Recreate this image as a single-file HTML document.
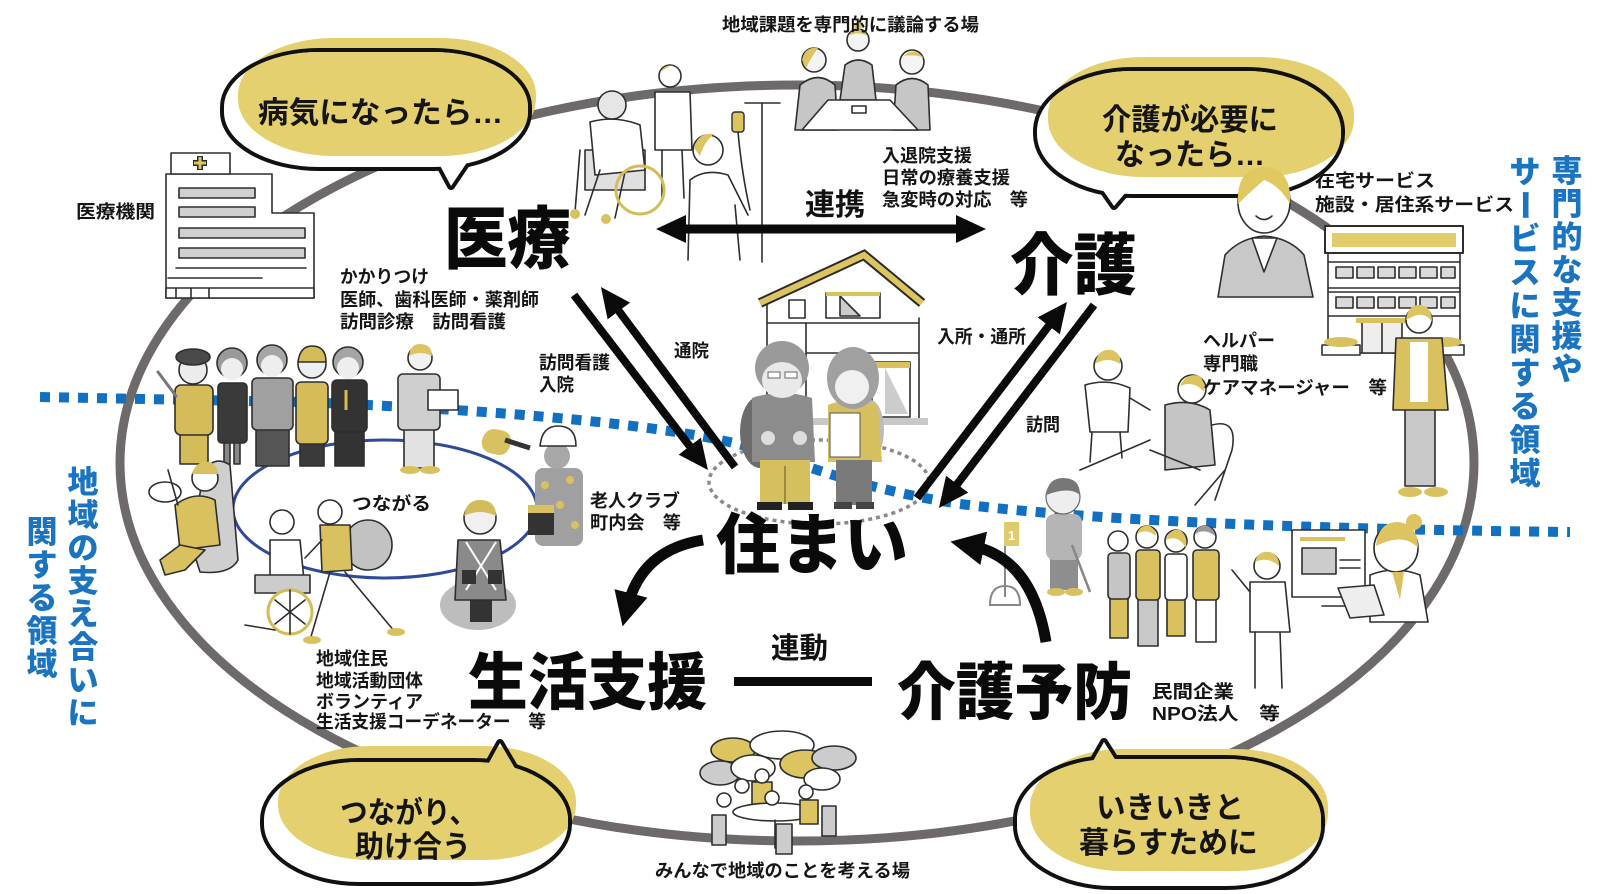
<!DOCTYPE html>
<html><head><meta charset="utf-8">
<style>
html,body{margin:0;padding:0;background:#fff;}
svg{display:block;}
text{font-family:"Liberation Sans","Noto Sans CJK JP",sans-serif;}
.s{font-size:18px;font-weight:700;fill:#151515;}
.b{font-weight:900;fill:#0a0a0a;}
.q{font-size:30px;font-weight:700;fill:#151515;}
.v{font-size:31px;font-weight:900;fill:#1a74c0;}
.ln{stroke:#2e2e2e;stroke-width:1.6;stroke-linecap:round;stroke-linejoin:round;}
</style></head><body>
<svg width="1600" height="894" viewBox="0 0 1600 894" xmlns="http://www.w3.org/2000/svg">
<defs>
<marker id="ah" viewBox="0 0 30 28" markerWidth="30" markerHeight="28" refX="10" refY="14" orient="auto-start-reverse" markerUnits="userSpaceOnUse"><path d="M0,0 L30,14 L0,28 Z" fill="#0a0a0a"/></marker>
<marker id="ah2" viewBox="0 0 34 34" markerWidth="34" markerHeight="34" refX="12" refY="17" orient="auto" markerUnits="userSpaceOnUse"><path d="M0,0 L34,17 L0,34 Z" fill="#0a0a0a"/></marker>
<clipPath id="c1"><rect x="224" y="52" width="304" height="115" rx="95" ry="55"/><polygon points="436,158 451,186 472,155"/></clipPath>
<clipPath id="c2"><rect x="1037" y="71" width="304" height="123" rx="95" ry="60"/><polygon points="1100,186 1114,206 1133,184"/></clipPath>
<clipPath id="c3"><rect x="264" y="762" width="304" height="120" rx="95" ry="58"/><polygon points="484,772 500,743 517,772"/></clipPath>
<clipPath id="c4"><rect x="1017" y="759" width="304" height="127" rx="95" ry="60"/><polygon points="1088,770 1104,742 1121,769"/></clipPath>
</defs>
<rect width="1600" height="894" fill="#fff"/>

<!-- main ring -->
<ellipse cx="797" cy="463" rx="677" ry="378" fill="none" stroke="#6e6a6a" stroke-width="9"/>
<!-- community ring -->
<ellipse cx="385" cy="509" rx="152" ry="69" fill="none" stroke="#2f4a96" stroke-width="3"/>
<!-- blue dotted boundary -->
<path d="M40,397 L300,402 C500,410 680,425 760,450 C820,472 880,492 960,504 C1040,514 1200,528 1570,532" fill="none" stroke="#1170bf" stroke-width="10" stroke-dasharray="10 9"/>

<!-- hospital -->
<g class="ln" fill="#fff" stroke-width="2">
<path d="M166,298 V174 H272 V213 H314 V298 Z"/>
<rect x="171" y="153" width="59" height="21"/>
<rect x="179" y="188" width="76" height="10" fill="#d0d0d0"/>
<rect x="179" y="207" width="76" height="10" fill="#d0d0d0"/>
<rect x="179" y="228" width="126" height="10" fill="#d0d0d0"/>
<rect x="179" y="248" width="126" height="10" fill="#d0d0d0"/>
<path d="M176,268 H306 M168,278 H262" fill="none"/>
<rect x="166" y="288" width="148" height="10"/>
<path d="M176,288 V298 M191,288 V298 M209,288 V298" fill="none"/>
</g>
<path d="M200,156 V170 M193,163 H207" stroke="#2a2a2a" stroke-width="6"/>
<path d="M200,157 V169 M194,163 H206" stroke="#dcc461" stroke-width="3"/>

<!-- care facility -->
<g class="ln" fill="#fff">
<rect x="1328" y="253" width="132" height="100"/>
<rect x="1325" y="226" width="138" height="27" stroke-width="2"/>
<path d="M1328,262 H1460 M1328,288 H1460 M1328,292 H1460 M1328,316 H1460" fill="none"/>
<g fill="#dadada">
<rect x="1336" y="267" width="17" height="11"/><rect x="1357" y="267" width="17" height="11"/><rect x="1378" y="267" width="17" height="11"/><rect x="1399" y="267" width="17" height="11"/><rect x="1420" y="267" width="17" height="11"/><rect x="1441" y="267" width="14" height="11"/>
<rect x="1336" y="297" width="17" height="11"/><rect x="1357" y="297" width="17" height="11"/><rect x="1378" y="297" width="17" height="11"/><rect x="1399" y="297" width="17" height="11"/><rect x="1420" y="297" width="17" height="11"/><rect x="1441" y="297" width="14" height="11"/>
</g>
<rect x="1362" y="322" width="40" height="31" fill="#eee"/>
<path d="M1382,322 V353" fill="none"/>
<rect x="1322" y="345" width="38" height="10"/>
<rect x="1428" y="345" width="36" height="10"/>
</g>
<rect x="1332" y="233" width="124" height="14" fill="#e2cd6a"/>
<rect x="1356" y="318" width="52" height="5" fill="#d9c15f"/>
<ellipse cx="1341" cy="342" rx="17" ry="5" fill="#d9c15f"/>
<ellipse cx="1446" cy="342" rx="16" ry="5" fill="#d9c15f"/>

<!-- house -->
<g class="ln" fill="none">
<path d="M767,303 V418 M919,318 V418 M806,323 V418 M767,323 H919 M806,353 H919"/>
<rect x="826" y="293" width="54" height="25" fill="#fff"/>
<path d="M840,296 L860,316 H840 Z" fill="#ccc"/>
<rect x="789" y="300" width="16" height="18"/>
<rect x="872" y="362" width="38" height="55" fill="#fff"/>
<path d="M885,368 L908,414 H885 Z" fill="#ccc" stroke="none"/>
</g>
<rect x="826" y="292" width="54" height="4" fill="#d9c15f"/>
<rect x="872" y="362" width="38" height="6" fill="#d9c15f"/>
<rect x="758" y="418" width="170" height="7" fill="#c8c8c8"/>
<path d="M760,303 L864,255 L922,303" fill="none" stroke="#2a2a2a" stroke-width="10" stroke-linejoin="miter"/>
<path d="M760,303 L864,255 L922,303" fill="none" stroke="#dcc461" stroke-width="6" stroke-linejoin="miter"/>

<!-- dotted ellipse -->
<ellipse cx="819" cy="482" rx="110" ry="42" fill="none" stroke="#8a8a8a" stroke-width="3.5" stroke-dasharray="4 4"/>

<!-- couple -->
<ellipse cx="760" cy="432" rx="20" ry="36" fill="#6c6c6c"/>
<path d="M752,398 Q782,388 812,398 L815,462 L752,462 Z" fill="#8c8c8c"/>
<rect x="760" y="460" width="50" height="44" fill="#d6bf5f"/>
<path d="M785,466 V504" stroke="#9c8a3c" stroke-width="2"/>
<rect x="757" y="502" width="25" height="8" fill="#222"/><rect x="788" y="502" width="25" height="8" fill="#222"/>
<circle cx="782" cy="368" r="27" fill="#9a9a9a"/>
<ellipse cx="782" cy="380" rx="20" ry="18" fill="#e9e9e9"/>
<rect x="768" y="372" width="12" height="6" fill="#fff" stroke="#666"/><rect x="785" y="372" width="12" height="6" fill="#fff" stroke="#666"/>
<circle cx="768" cy="438" r="7" fill="#ddd"/><circle cx="800" cy="438" r="7" fill="#ddd"/>
<ellipse cx="870" cy="430" rx="14" ry="30" fill="#bcbcbc"/>
<path d="M828,405 Q852,395 878,405 L882,462 L828,462 Z" fill="#d6bf5f"/>
<rect x="830" y="413" width="30" height="44" fill="#fff" stroke="#555"/>
<rect x="836" y="460" width="36" height="45" fill="#7a7a7a"/>
<rect x="834" y="502" width="18" height="7" fill="#444"/><rect x="856" y="502" width="18" height="7" fill="#444"/>
<ellipse cx="853" cy="378" rx="26" ry="31" fill="#a0a0a0"/>
<circle cx="852" cy="387" r="17" fill="#f0f0f0"/>

<!-- top: wheelchair group -->
<g class="ln" fill="#fff">
<path d="M655,92 L690,92 L692,150 L655,150 Z"/>
<path d="M662,150 L662,200 M682,150 L684,198" fill="none"/>
<circle cx="670" cy="76" r="11"/>
<rect x="585" y="150" width="60" height="40" fill="#e0e0e0"/>
<path d="M590,122 Q615,115 640,125 L645,170 L595,175 Z"/>
<path d="M600,170 L585,215 M625,172 L615,218 M580,150 L575,212" fill="none"/>
<circle cx="612" cy="105" r="14" fill="#e6e6e6"/>
<circle cx="640" cy="190" r="24" fill="none" stroke="#d4bc5a" stroke-width="3"/>
</g>
<path d="M660,72 Q668,60 680,70 Q676,66 670,66 Z" fill="#dcc461"/>
<circle cx="575" cy="214" r="5" fill="#d9c15f"/><circle cx="606" cy="219" r="5" fill="#d9c15f"/>
<!-- IV nurse -->
<g class="ln" fill="#fff">
<path d="M688,260 L690,180 Q705,168 728,175 L748,215 M740,260 L735,205" fill="none"/>
<circle cx="708" cy="150" r="15"/>
<path d="M762,103 V262 M745,103 H780" fill="none"/>
<path d="M738,132 Q742,175 750,210" fill="none"/>
</g>
<path d="M694,148 Q698,132 714,134 Q704,142 700,156 Z" fill="#dcc461"/>
<rect x="732" y="112" width="12" height="20" rx="3" fill="#dcc461" stroke="#2e2e2e" stroke-width="1.4"/>

<!-- meeting top -->
<g class="ln" fill="#c6c6c6">
<path d="M795,130 L800,85 Q818,70 835,85 L838,130 Z"/>
<path d="M840,100 L845,65 Q858,55 872,65 L876,100 Z"/>
<path d="M893,130 L896,85 Q912,72 928,85 L930,130 Z"/>
<polygon points="828,100 890,100 918,130 802,130" fill="#fff"/>
<rect x="852" y="106" width="14" height="7" fill="#fff"/>
<circle cx="814" cy="60" r="12" fill="#f4f4f4"/>
<circle cx="858" cy="40" r="11" fill="#f4f4f4"/>
<circle cx="912" cy="62" r="12" fill="#f4f4f4"/>
</g>
<path d="M802,60 Q805,46 818,48 Q812,56 806,68 Z" fill="#dcc461"/>
<path d="M848,36 Q858,24 868,36 Q858,31 848,36 Z" fill="#dcc461"/>
<circle cx="858" cy="26" r="4" fill="#dcc461"/>
<path d="M904,56 Q914,46 924,58 Q916,54 904,56 Z" fill="#dcc461"/>

<!-- woman yellow jacket -->
<rect x="1405" y="408" width="30" height="78" fill="#c8c8c8" class="ln"/>
<path d="M1396,338 L1442,338 L1448,410 L1393,410 Z" fill="#d9c15f" class="ln"/>
<rect x="1410" y="342" width="18" height="60" fill="#fff"/>
<circle cx="1419" cy="320" r="13" fill="#fff" class="ln"/>
<path d="M1406,320 Q1408,304 1420,305 Q1432,306 1432,322 Q1424,310 1410,318 Z" fill="#dcc461"/>
<ellipse cx="1410" cy="492" rx="12" ry="5" fill="#d9c15f"/><ellipse cx="1436" cy="492" rx="12" ry="5" fill="#d9c15f"/>

<!-- helper & elderly -->
<g class="ln" fill="#fff">
<path d="M1085,385 Q1108,378 1130,388 L1128,432 L1090,432 Z"/>
<path d="M1092,432 L1090,462 M1120,432 L1122,458 M1130,398 L1150,410" fill="none"/>
<circle cx="1108" cy="366" r="14"/>
<path d="M1165,405 Q1190,398 1210,410 L1215,465 L1165,470 Z" fill="#c5c5c5"/>
<circle cx="1192" cy="389" r="14"/>
<path d="M1212,425 Q1238,418 1232,450 L1215,500 M1080,470 L1150,440 M1150,450 L1200,470 M1195,505 L1225,470" fill="none"/>
</g>
<path d="M1095,364 Q1098,348 1112,350 Q1122,354 1120,364 Q1108,356 1095,364 Z" fill="#dcc461"/>
<path d="M1180,386 Q1186,372 1200,376 Q1206,384 1204,392 Q1194,380 1180,386 Z" fill="#dcc461"/>

<!-- golfer & flag -->
<path d="M1005,522 V597" stroke="#888" stroke-width="2"/>
<rect x="1004" y="522" width="15" height="24" fill="#e0cb6a"/>
<text x="1008" y="540" font-size="13" font-weight="700" fill="#fff">1</text>
<path d="M990,605 Q990,586 1005,586 Q1020,586 1020,605 Z" fill="none" stroke="#888" stroke-width="2"/>
<rect x="1050" y="556" width="28" height="34" fill="#8e8e8e"/>
<rect x="1046" y="514" width="36" height="46" rx="8" fill="#b5b5b5"/>
<circle cx="1063" cy="497" r="17" fill="#eee" stroke="#666" stroke-width="1.2"/>
<path d="M1046,495 Q1048,478 1063,478 Q1080,478 1080,495 Q1070,486 1046,495 Z" fill="#777"/>
<path d="M1072,545 L1090,592" stroke="#888" stroke-width="2.5"/>
<ellipse cx="1056" cy="592" rx="9" ry="4" fill="#d9c15f"/><ellipse cx="1074" cy="592" rx="9" ry="4" fill="#d9c15f"/>

<!-- group of 4 -->
<g class="ln">
<rect x="1110" y="598" width="18" height="40" fill="#d9c15f"/>
<rect x="1108" y="553" width="22" height="46" rx="4" fill="#c5c5c5"/>
<rect x="1138" y="598" width="20" height="48" fill="#c8c8c8"/>
<rect x="1136" y="550" width="24" height="50" rx="4" fill="#d9c15f"/>
<rect x="1167" y="598" width="18" height="38" fill="#d9c15f"/>
<rect x="1165" y="554" width="22" height="46" rx="4" fill="#fff"/>
<rect x="1196" y="598" width="20" height="44" fill="#fff"/>
<rect x="1193" y="550" width="26" height="50" rx="4" fill="#d9c15f"/>
<circle cx="1118" cy="541" r="10" fill="#fff"/>
<circle cx="1147" cy="537" r="11" fill="#fff"/>
<circle cx="1176" cy="541" r="11" fill="#fff"/>
<circle cx="1205" cy="537" r="11" fill="#fff"/>
</g>
<path d="M1137,534 Q1140,524 1150,526 Q1156,530 1156,536 Q1146,528 1137,534 Z" fill="#dcc461"/>
<path d="M1166,540 Q1170,528 1180,530 Q1188,536 1186,548 Q1178,534 1166,540 Z" fill="#dcc461"/>
<path d="M1195,534 Q1198,524 1208,526 Q1215,530 1215,536 Q1205,528 1195,534 Z" fill="#999"/>

<!-- nurse -->
<g class="ln" fill="#fff">
<path d="M1250,582 L1285,582 L1290,632 L1250,632 Z"/>
<path d="M1255,632 L1255,688 M1280,632 L1282,688 M1250,592 L1232,570" fill="none"/>
<circle cx="1267" cy="566" r="13"/>
</g>
<path d="M1255,562 Q1258,550 1270,552 Q1280,556 1279,566 Q1268,556 1255,562 Z" fill="#dcc461"/>

<!-- presenter -->
<g class="ln" fill="#fff">
<rect x="1292" y="530" width="73" height="67"/>
<rect x="1302" y="548" width="34" height="26" fill="#ccc"/>
<path d="M1340,560 H1360 M1340,568 H1360 M1322,606 H1368" fill="none"/>
<path d="M1370,575 Q1395,565 1420,575 L1428,622 L1370,622 Z"/>
<polygon points="1338,588 1374,585 1384,615 1350,618" fill="#eee"/>
<ellipse cx="1396" cy="548" rx="22" ry="24"/>
</g>
<rect x="1300" y="537" width="45" height="4" fill="#d9c15f"/>
<path d="M1376,546 Q1378,522 1398,522 Q1418,524 1418,548 Q1404,532 1376,546 Z" fill="#dcc461"/>
<circle cx="1414" cy="522" r="8" fill="#dcc461"/>
<path d="M1392,572 L1400,600 L1404,572 Z" fill="#d9c15f"/>

<!-- workers row -->
<g class="ln">
<rect x="180" y="430" width="28" height="34" fill="#d4bc5a"/>
<rect x="175" y="385" width="38" height="50" rx="6" fill="#d4bc5a"/>
<path d="M158,372 L176,396" stroke="#777" stroke-width="3" fill="none"/>
<circle cx="193" cy="370" r="14" fill="#ececec"/>
<ellipse cx="193" cy="357" rx="17" ry="8" fill="#4a4a4a"/>
<rect x="224" y="440" width="6" height="24" fill="#888"/><rect x="234" y="440" width="6" height="24" fill="#888"/>
<rect x="218" y="383" width="29" height="60" rx="4" fill="#3a3a3a"/>
<circle cx="232" cy="363" r="15" fill="#9a9a9a"/>
<circle cx="232" cy="369" r="11" fill="#eee" stroke="none"/>
<rect x="256" y="426" width="33" height="40" fill="#555"/>
<rect x="252" y="378" width="41" height="52" rx="5" fill="#a0a0a0"/>
<circle cx="272" cy="360" r="15" fill="#a5a5a5"/>
<circle cx="272" cy="366" r="11" fill="#eee" stroke="none"/>
<rect x="300" y="442" width="24" height="24" fill="#3a3a3a"/>
<rect x="296" y="382" width="32" height="62" rx="5" fill="#d4bc5a"/>
<circle cx="312" cy="364" r="14" fill="#eee"/>
<path d="M298,362 Q300,346 312,346 Q326,346 326,362 Z" fill="#d4bc5a"/>
<rect x="335" y="428" width="29" height="38" fill="#333"/>
<rect x="332" y="380" width="35" height="52" rx="5" fill="#333"/>
<circle cx="348" cy="362" r="15" fill="#a5a5a5"/>
<circle cx="348" cy="368" r="11" fill="#eee" stroke="none"/>
<rect x="404" y="426" width="30" height="42" fill="#e2e2e2"/>
<rect x="398" y="374" width="42" height="56" rx="5" fill="#cfcfcf"/>
<rect x="428" y="390" width="30" height="20" fill="#fff"/>
<circle cx="420" cy="358" r="12" fill="#f2f2f2"/>
</g>
<path d="M346,390 V410" stroke="#d4bc5a" stroke-width="3"/>
<path d="M409,356 Q410,344 420,344 Q432,344 432,356 Q420,350 409,356 Z" fill="#dcc461"/>
<ellipse cx="410" cy="470" rx="10" ry="4" fill="#d9c15f"/><ellipse cx="430" cy="470" rx="10" ry="4" fill="#d9c15f"/>

<!-- driver -->
<g class="ln">
<path d="M205,470 Q215,455 230,465 L238,560 Q230,575 200,572 L190,540 Z" fill="#cfcfcf"/>
<path d="M175,505 Q195,490 215,500 L220,545 L180,550 Z" fill="#d9c15f"/>
<path d="M180,545 L160,560 L165,575 L185,570 L205,550 Z" fill="#d9c15f"/>
<ellipse cx="165" cy="492" rx="16" ry="10" fill="none"/>
<path d="M178,505 L168,470" fill="none"/>
<circle cx="205" cy="478" r="13" fill="#fff"/>
</g>
<path d="M192,474 Q196,460 210,462 Q218,466 218,474 Z" fill="#d9c15f"/>

<!-- walker + wheelchair -->
<g class="ln">
<ellipse cx="368" cy="545" rx="24" ry="25" fill="#c2c2c2"/>
<path d="M320,525 L350,525 L352,570 L322,572 Z" fill="#d9c15f"/>
<path d="M330,572 L310,640 M345,572 L395,632 M322,540 L305,558" fill="none"/>
<circle cx="330" cy="512" r="12" fill="#fff"/>
<path d="M270,540 L300,540 L305,590 L270,590 Z" fill="#fff"/>
<rect x="255" y="575" width="55" height="18" fill="#ccc"/>
<circle cx="290" cy="612" r="22" fill="#fff" stroke="#d4bc5a" stroke-width="3"/>
<path d="M275,600 L305,624 M275,624 L305,600 M290,590 V634 M245,625 L275,630" fill="none"/>
<circle cx="282" cy="522" r="12" fill="#fff"/>
</g>
<ellipse cx="312" cy="640" rx="9" ry="4" fill="#d9c15f"/><ellipse cx="396" cy="632" rx="9" ry="4" fill="#d9c15f"/>

<!-- kimono woman -->
<ellipse cx="478" cy="605" rx="38" ry="25" fill="#bdbdbd"/>
<rect x="470" y="596" width="22" height="26" fill="#333"/>
<path d="M458,540 L500,540 L506,600 L455,600 Z" fill="#8a8a8a" class="ln"/>
<path d="M466,542 L496,590 M496,542 L466,590" stroke="#fff" stroke-width="2"/>
<rect x="462" y="570" width="14" height="14" fill="#333"/><rect x="488" y="570" width="14" height="14" fill="#333"/>
<circle cx="480" cy="518" r="16" fill="#f0f0f0" class="ln"/>
<path d="M464,516 Q466,500 480,500 Q496,500 496,516 Q480,508 464,516 Z" fill="#d4bc5a"/>

<!-- painter -->
<path d="M482,440 Q486,426 500,430 Q514,432 510,446 Q506,458 494,454 Q480,452 482,440 Z" fill="#d9c15f"/>
<path d="M505,440 L530,448" stroke="#333" stroke-width="5"/>
<rect x="535" y="468" width="48" height="78" rx="8" fill="#a0a0a0"/>
<circle cx="545" cy="485" r="4" fill="#d9c15f"/><circle cx="570" cy="480" r="4" fill="#d9c15f"/><circle cx="560" cy="505" r="4" fill="#d9c15f"/><circle cx="575" cy="525" r="4" fill="#d9c15f"/><circle cx="545" cy="530" r="4" fill="#d9c15f"/>
<circle cx="557" cy="456" r="13" fill="#a8a8a8"/>
<path d="M540,446 Q542,426 558,426 Q576,426 576,446 Z" fill="#fff" class="ln"/>
<rect x="528" y="505" width="26" height="30" fill="#333"/>
<rect x="528" y="505" width="26" height="8" fill="#d9c15f"/>

<!-- bottom meeting -->
<g class="ln">
<ellipse cx="733" cy="750" rx="22" ry="12" fill="#dcc461"/>
<ellipse cx="782" cy="745" rx="32" ry="14" fill="#fff"/>
<ellipse cx="720" cy="773" rx="20" ry="12" fill="#ccc"/>
<ellipse cx="753" cy="768" rx="22" ry="13" fill="#fff"/>
<ellipse cx="805" cy="764" rx="25" ry="14" fill="#dcc461"/>
<ellipse cx="834" cy="758" rx="22" ry="12" fill="#ccc"/>
<ellipse cx="822" cy="779" rx="18" ry="11" fill="#fff"/>
<rect x="752" y="782" width="20" height="26" fill="#dcc461"/>
<circle cx="762" cy="776" r="7" fill="#fff"/>
<circle cx="742" cy="786" r="7" fill="#fff"/>
<ellipse cx="775" cy="812" rx="42" ry="9" fill="#fff"/>
<path d="M775,820 V848" fill="none"/>
<rect x="712" y="815" width="14" height="30" fill="#ccc"/>
<rect x="776" y="824" width="16" height="30" fill="#ccc"/>
<rect x="822" y="806" width="14" height="30" fill="#ccc"/>
<rect x="800" y="800" width="18" height="24" fill="#dcc461"/>
<circle cx="806" cy="792" r="7" fill="#fff"/>
<circle cx="724" cy="800" r="7" fill="#fff"/>
<circle cx="772" cy="798" r="7" fill="#fff"/>
</g>

<!-- bubbles -->
<g>
<rect x="238" y="38" width="298" height="118" rx="95" ry="57" fill="#e4d06f"/>
<g fill="none" stroke="#111" stroke-width="8" stroke-linejoin="round"><rect x="224" y="52" width="304" height="115" rx="95" ry="55"/><polygon points="436,158 451,186 472,155"/></g>
<g fill="#fff"><rect x="224" y="52" width="304" height="115" rx="95" ry="55"/><polygon points="436,158 451,186 472,155"/></g>
<rect x="238" y="38" width="298" height="118" rx="95" ry="57" fill="#e4d06f" clip-path="url(#c1)"/>
</g>
<g>
<rect x="1048" y="57" width="306" height="120" rx="95" ry="58" fill="#e4d06f"/>
<g fill="none" stroke="#111" stroke-width="8" stroke-linejoin="round"><rect x="1037" y="71" width="304" height="123" rx="95" ry="60"/><polygon points="1100,186 1114,206 1133,184"/></g>
<g fill="#fff"><rect x="1037" y="71" width="304" height="123" rx="95" ry="60"/><polygon points="1100,186 1114,206 1133,184"/></g>
<rect x="1048" y="57" width="306" height="120" rx="95" ry="58" fill="#e4d06f" clip-path="url(#c2)"/>
</g>
<g>
<rect x="278" y="746" width="298" height="114" rx="92" ry="55" fill="#e4d06f"/>
<g fill="none" stroke="#111" stroke-width="8" stroke-linejoin="round"><rect x="264" y="762" width="304" height="120" rx="95" ry="58"/><polygon points="484,772 500,743 517,772"/></g>
<g fill="#fff"><rect x="264" y="762" width="304" height="120" rx="95" ry="58"/><polygon points="484,772 500,743 517,772"/></g>
<rect x="278" y="746" width="298" height="114" rx="92" ry="55" fill="#e4d06f" clip-path="url(#c3)"/>
</g>
<g>
<rect x="1030" y="749" width="298" height="122" rx="92" ry="58" fill="#e4d06f"/>
<g fill="none" stroke="#111" stroke-width="8" stroke-linejoin="round"><rect x="1017" y="759" width="304" height="127" rx="95" ry="60"/><polygon points="1088,770 1104,742 1121,769"/></g>
<g fill="#fff"><rect x="1017" y="759" width="304" height="127" rx="95" ry="60"/><polygon points="1088,770 1104,742 1121,769"/></g>
<rect x="1030" y="749" width="298" height="122" rx="92" ry="58" fill="#e4d06f" clip-path="url(#c4)"/>
</g>

<!-- care manager woman (drawn over bubble) -->
<path d="M1218,297 L1225,255 Q1240,238 1264,236 Q1290,238 1304,255 L1313,297 Z" fill="#c8c8c8" class="ln"/>
<path d="M1252,238 L1264,272 L1277,238 Z" fill="#fff" class="ln"/>
<ellipse cx="1264" cy="202" rx="26" ry="31" fill="#fff" class="ln"/>
<path d="M1238,204 Q1236,168 1264,167 Q1292,168 1290,204 Q1280,186 1264,180 Q1250,192 1238,204 Z" fill="#e0c860"/>
<path d="M1256,216 Q1264,223 1272,216" fill="none" class="ln"/>

<!-- arrows -->
<g stroke="#0a0a0a" fill="none">
<line x1="676" y1="229" x2="966" y2="229" stroke-width="9" marker-start="url(#ah)" marker-end="url(#ah)"/>
<line x1="574" y1="295" x2="695.8" y2="454.1" stroke-width="8" marker-end="url(#ah)"/>
<line x1="735" y1="467" x2="612.9" y2="303" stroke-width="8" marker-end="url(#ah)"/>
<line x1="917" y1="498" x2="1054.8" y2="317.9" stroke-width="8" marker-end="url(#ah)"/>
<line x1="1094" y1="305" x2="951.1" y2="492.1" stroke-width="8" marker-end="url(#ah)"/>
<path d="M703,540 Q642,550 628,605" stroke-width="11" marker-end="url(#ah2)"/>
<path d="M1046,642 Q1032,558 972,546" stroke-width="11" marker-end="url(#ah2)"/>
</g>
<rect x="734" y="677" width="138" height="9" fill="#0a0a0a"/>

<!-- big labels -->
<text class="b" x="444" y="263" font-size="68" textLength="127" lengthAdjust="spacingAndGlyphs">医療</text>
<text class="b" x="1010" y="289" font-size="67" textLength="127" lengthAdjust="spacingAndGlyphs">介護</text>
<text class="b" x="716" y="568" font-size="66" textLength="192" lengthAdjust="spacingAndGlyphs">住まい</text>
<text class="b" x="468" y="704" font-size="62" textLength="239" lengthAdjust="spacingAndGlyphs">生活支援</text>
<text class="b" x="897" y="714" font-size="62" textLength="235" lengthAdjust="spacingAndGlyphs">介護予防</text>
<text x="805" y="215" font-size="30" font-weight="700" fill="#111" textLength="60" lengthAdjust="spacingAndGlyphs">連携</text>
<text x="771" y="658" font-size="29" font-weight="700" fill="#111" textLength="57" lengthAdjust="spacingAndGlyphs">連動</text>

<!-- bubble texts -->
<text class="q" x="258" y="123" textLength="245" lengthAdjust="spacingAndGlyphs">病気になったら…</text>
<text class="q" x="1102" y="130" textLength="176" lengthAdjust="spacingAndGlyphs">介護が必要に</text>
<text class="q" x="1115" y="165" textLength="150" lengthAdjust="spacingAndGlyphs">なったら…</text>
<text class="q" x="340" y="823" textLength="137" lengthAdjust="spacingAndGlyphs">つながり、</text>
<text class="q" x="355" y="857" textLength="116" lengthAdjust="spacingAndGlyphs">助け合う</text>
<text class="q" x="1096" y="818" textLength="148" lengthAdjust="spacingAndGlyphs">いきいきと</text>
<text class="q" x="1079" y="853" textLength="179" lengthAdjust="spacingAndGlyphs">暮らすために</text>

<!-- small labels -->
<text class="s" x="722" y="31" font-size="17" textLength="257" lengthAdjust="spacingAndGlyphs">地域課題を専門的に議論する場</text>
<text class="s" x="76" y="218" textLength="79" lengthAdjust="spacingAndGlyphs">医療機関</text>
<text class="s" x="340" y="283" textLength="89" lengthAdjust="spacingAndGlyphs">かかりつけ</text>
<text class="s" x="340" y="306" textLength="199" lengthAdjust="spacingAndGlyphs">医師、歯科医師・薬剤師</text>
<text class="s" x="340" y="328" textLength="166" lengthAdjust="spacingAndGlyphs">訪問診療　訪問看護</text>
<text class="s" x="882" y="162" textLength="90" lengthAdjust="spacingAndGlyphs">入退院支援</text>
<text class="s" x="882" y="184" textLength="128" lengthAdjust="spacingAndGlyphs">日常の療養支援</text>
<text class="s" x="882" y="206" textLength="146" lengthAdjust="spacingAndGlyphs">急変時の対応　等</text>
<text class="s" x="1315" y="187" textLength="120" lengthAdjust="spacingAndGlyphs">在宅サービス</text>
<text class="s" x="1315" y="211" textLength="199" lengthAdjust="spacingAndGlyphs">施設・居住系サービス</text>
<text class="s" x="1203" y="347" textLength="72" lengthAdjust="spacingAndGlyphs">ヘルパー</text>
<text class="s" x="1203" y="370" textLength="55" lengthAdjust="spacingAndGlyphs">専門職</text>
<text class="s" x="1203" y="394" textLength="184" lengthAdjust="spacingAndGlyphs">ケアマネージャー　等</text>
<text class="s" x="674" y="357" textLength="35" lengthAdjust="spacingAndGlyphs">通院</text>
<text class="s" x="539" y="369" textLength="71" lengthAdjust="spacingAndGlyphs">訪問看護</text>
<text class="s" x="539" y="391" textLength="35" lengthAdjust="spacingAndGlyphs">入院</text>
<text class="s" x="937" y="343" textLength="89" lengthAdjust="spacingAndGlyphs">入所・通所</text>
<text class="s" x="1026" y="431" textLength="34" lengthAdjust="spacingAndGlyphs">訪問</text>
<text class="s" x="590" y="507" textLength="90" lengthAdjust="spacingAndGlyphs">老人クラブ</text>
<text class="s" x="590" y="529" textLength="91" lengthAdjust="spacingAndGlyphs">町内会　等</text>
<text class="s" x="352" y="510" textLength="79" lengthAdjust="spacingAndGlyphs">つながる</text>
<text class="s" x="316" y="665" textLength="72" lengthAdjust="spacingAndGlyphs">地域住民</text>
<text class="s" x="316" y="687" textLength="107" lengthAdjust="spacingAndGlyphs">地域活動団体</text>
<text class="s" x="316" y="708" textLength="107" lengthAdjust="spacingAndGlyphs">ボランティア</text>
<text class="s" x="316" y="728" textLength="230" lengthAdjust="spacingAndGlyphs">生活支援コーデネーター　等</text>
<text class="s" x="1152" y="698" textLength="82" lengthAdjust="spacingAndGlyphs">民間企業</text>
<text class="s" x="1152" y="720" textLength="128" lengthAdjust="spacingAndGlyphs">NPO法人　等</text>
<text class="s" x="655" y="877" font-size="17" textLength="255" lengthAdjust="spacingAndGlyphs">みんなで地域のことを考える場</text>

<!-- vertical blue labels right -->
<g class="v" text-anchor="middle">
<text x="1567" y="182">専</text><text x="1567" y="215">門</text><text x="1567" y="248">的</text><text x="1567" y="281">な</text><text x="1567" y="314">支</text><text x="1567" y="347">援</text><text x="1567" y="380">や</text>
<text x="1525" y="183">サ</text><text x="1525" y="216.5" transform="rotate(90 1525 205)">ー</text><text x="1525" y="250">ビ</text><text x="1525" y="283.5">ス</text><text x="1525" y="317">に</text><text x="1525" y="350.5">関</text><text x="1525" y="384">す</text><text x="1525" y="417.5">る</text><text x="1525" y="451">領</text><text x="1525" y="484.5">域</text>
</g>
<!-- vertical blue labels left -->
<g class="v" text-anchor="middle">
<text x="83" y="493">地</text><text x="83" y="526">域</text><text x="83" y="559">の</text><text x="83" y="592">支</text><text x="83" y="625">え</text><text x="83" y="658">合</text><text x="83" y="691">い</text><text x="83" y="724">に</text>
<text x="42" y="543">関</text><text x="42" y="576">す</text><text x="42" y="609">る</text><text x="42" y="642">領</text><text x="42" y="675">域</text>
</g>
</svg>
</body></html>
